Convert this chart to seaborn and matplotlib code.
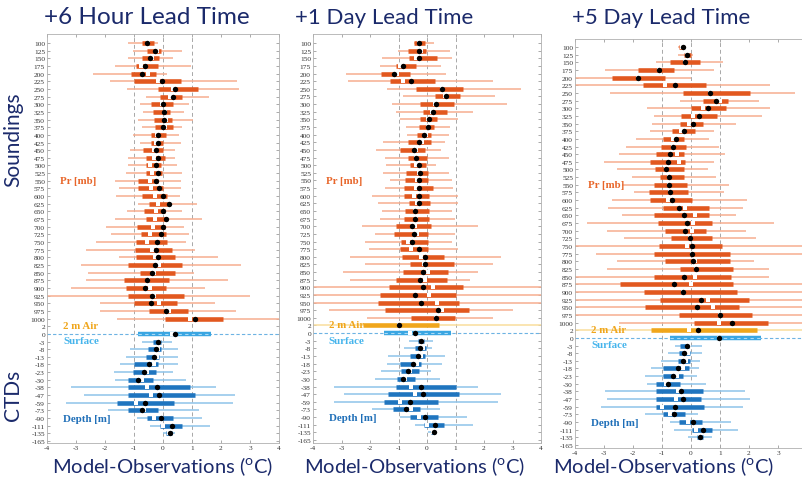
import numpy as np
import pandas as pd
import matplotlib
matplotlib.use("Agg")
import matplotlib.pyplot as plt
import seaborn as sns

# ---------------- data ----------------
levels = ["100", "125", "150", "175", "200", "225", "250", "275", "300", "325",
          "350", "375", "400", "425", "450", "475", "500", "525", "550", "575",
          "600", "625", "650", "675", "700", "725", "750", "775", "800", "825",
          "850", "875", "900", "925", "950", "975", "1000", "2", "0",
          "-3", "-8", "-13", "-18", "-23", "-30", "-38", "-47", "-59", "-73",
          "-90", "-111", "-135", "-165"]
nan = np.nan
titles = ["+6 Hour Lead Time", "+1 Day Lead Time", "+5 Day Lead Time"]
xticks = [-4, -3, -2, -1, 0, 1, 2, 3, 4]

# Panel 1 (+6 h)
wlo1 = [-1.21, -1.02, -1.21, -1.65, -2.41, -1.82, -1.23, -0.59, -0.81, -0.70, -0.87, -0.72, -1.02, -0.79, -1.13,
        -1.19, -1.19, -1.26, -1.67, -1.50, -1.61, -0.87, -1.25, -1.65, -1.95, -1.79, -2.30, -2.64, -1.50, -2.82,
        -2.57, -2.66, -3.17, -4.2, -2.18, -2.16, -1.57, nan, nan,
        -0.73, -1.13, -1.27, -1.47, -1.70, -1.65, -3.17, -2.73, -3.33, -1.91, -0.88, -0.45, 0.0, nan]
whi1 = [-0.16, 0.66, 0.35, 0.98, 0.15, 2.55, 2.62, 1.59, 0.90, 0.72, 1.02, 0.67, 0.56, 0.62, 0.43,
        0.43, 0.49, 0.64, 0.62, 0.62, 0.58, 1.18, 0.66, 1.33, 0.73, 0.89, 0.79, 1.12, 1.90, 2.70,
        1.06, 2.24, 1.45, 3.0, 1.78, 2.53, 4.2, nan, nan,
        0.30, 0.53, 0.53, 0.53, 0.35, 0.78, 1.84, 2.47, 2.41, 1.25, 1.36, 1.61, 0.40, nan]
blo1 = [-0.73, -0.56, -0.73, -0.93, -1.12, -0.99, -0.18, -0.09, -0.41, -0.33, -0.31, -0.26, -0.41, -0.42, -0.70,
        -0.59, -0.59, -0.59, -0.87, -0.85, -0.73, -0.48, -0.67, -0.58, -0.88, -0.77, -0.93, -0.95, -0.93, -1.19,
        -0.81, -1.36, -1.27, -1.22, -0.99, -0.48, 0.06, nan, -0.85,
        -0.35, -0.50, -0.58, -0.99, -1.05, -1.22, -1.19, -1.19, -1.57, -1.19, -0.56, -0.10, 0.10, nan]
bhi1 = [-0.31, -0.08, -0.13, -0.16, -0.24, 0.62, 1.20, 0.64, 0.35, 0.24, 0.32, 0.33, 0.10, 0.01, -0.01,
        0.07, -0.08, -0.05, -0.16, -0.01, 0.13, 0.24, 0.07, 0.15, 0.07, 0.10, 0.13, 0.32, 0.43, 0.66,
        0.43, 0.19, 0.09, 0.72, 0.48, 0.87, 2.06, nan, 1.67,
        -0.08, -0.07, -0.13, -0.16, -0.24, -0.33, 0.93, 1.12, 0.39, -0.16, 0.33, 0.64, 0.30, nan]
med1 = [-0.56, -0.26, -0.45, -0.62, -0.73, -0.03, 0.43, 0.35, 0.01, 0.02, 0.02, 0.01, -0.18, -0.17, -0.23,
        -0.18, -0.23, -0.16, -0.23, -0.13, -0.01, 0.22, 0.01, 0.10, 0.01, -0.08, -0.22, -0.23, -0.18, -0.26,
        -0.37, -0.54, -0.61, -0.39, -0.43, 0.10, 1.10, nan, 0.40,
        -0.18, -0.25, -0.31, -0.48, -0.65, -0.85, -0.22, -0.13, -0.62, -0.73, -0.07, 0.30, 0.24, nan]
mean1 = [-0.50, -0.22, -0.39, -0.75, -0.53, -0.16, 0.33, 0.24, -0.05, 0.07, 0.09, 0.07, -0.22, -0.24, -0.31,
         -0.31, -0.45, -0.39, -0.45, -0.42, -0.27, -0.18, -0.24, -0.27, -0.35, -0.45, -0.54, -0.39, -0.27, -0.15,
         -0.30, -0.50, -0.45, -0.30, -0.15, 0.22, 0.93, nan, 0.30,
         -0.13, -0.16, -0.19, -0.31, -0.56, -0.73, -0.54, -0.42, -0.93, -0.67, -0.31, -0.01, 0.20, nan]

# Panel 2 (+1 day)
wlo2 = [-0.47, -1.01, -1.59, -1.65, -2.85, -2.77, -1.42, -0.84, -1.24, -1.10, -0.93, -0.72, -0.70, -1.53, -1.80,
        -1.49, -1.45, -1.53, -1.30, -1.49, -1.92, -1.71, -1.57, -1.66, -2.29, -1.83, -2.19, -2.03, -2.71, -2.17,
        -2.94, -2.71, -4.2, -4.2, -4.2, -3.45, -2.09, -4.2, nan,
        -0.64, -0.81, -1.36, -1.40, -1.63, -1.83, -3.26, -2.91, -3.28, -1.94, -0.93, -0.43, 0.05, nan]
whi2 = [0.23, 0.79, 0.87, 0.50, 0.67, 2.3, 3.3, 2.4, 2.8, 1.60, 1.10, 0.79, 0.76, 0.62, 0.50,
        0.76, 0.31, 0.76, 0.87, 0.91, 1.10, 1.10, 0.87, 0.97, 1.78, 0.99, 0.87, 1.08, 2.6, 2.3,
        1.78, 1.51, 4.2, 4.2, 4.2, 3.0, 2.3, 4.2, nan,
        0.20, 0.17, 0.64, 0.52, 0.15, 0.47, 1.80, 2.6, 2.5, 0.44, 1.40, 1.63, 0.30, nan]
blo2 = [-0.44, -0.66, -0.62, -1.10, -1.60, -1.30, -0.37, 0.29, -0.26, -0.14, -0.23, -0.27, -0.35, -0.67, -0.93,
        -0.67, -0.60, -0.73, -0.78, -0.81, -0.81, -0.64, -0.78, -0.79, -1.10, -1.16, -0.91, -0.93, -0.87, -0.60,
        -0.85, -1.10, -1.34, -1.66, -1.71, -1.48, -0.55, -2.24, -1.51,
        -0.31, -0.43, -0.58, -0.95, -0.91, -1.05, -1.08, -1.37, -1.51, -1.19, -0.58, -0.12, 0.14, nan]
bhi2 = [-0.08, -0.02, 0.35, -0.37, -0.60, 0.27, 1.26, 1.16, 0.93, 0.70, 0.35, 0.26, 0.14, 0.14, -0.06,
        0.0, -0.02, 0.03, 0.02, 0.20, 0.06, 0.12, 0.06, 0.06, 0.15, 0.02, 0.02, 0.02, 0.60, 0.93,
        0.73, 0.70, 1.28, 1.02, 1.13, 1.49, 0.97, 0.41, 0.84,
        -0.12, -0.02, -0.06, -0.20, -0.29, -0.41, 1.01, 1.14, 0.37, -0.26, 0.37, 0.60, 0.29, nan]
med2 = [-0.29, -0.29, -0.27, -0.83, -1.15, -0.55, 0.53, 0.67, 0.33, 0.21, 0.06, 0.02, -0.10, -0.27, -0.45,
        -0.37, -0.29, -0.23, -0.29, -0.29, -0.29, -0.27, -0.43, -0.43, -0.52, -0.45, -0.52, -0.29, -0.06, -0.08,
        -0.14, -0.23, -0.15, -0.41, -0.20, 0.37, 0.30, -0.99, -0.41,
        -0.22, -0.26, -0.33, -0.49, -0.67, -0.85, -0.20, -0.15, -0.60, -0.73, -0.06, 0.29, 0.23, nan]
mean2 = [-0.27, -0.20, -0.38, -0.93, -1.05, -0.85, 0.53, 0.64, 0.27, 0.17, 0.03, 0.02, -0.03, -0.17, -0.38,
         -0.38, -0.38, -0.29, -0.35, -0.37, -0.47, -0.35, -0.43, -0.38, -0.41, -0.35, -0.66, -0.55, -0.20, -0.12,
         0.03, -0.06, 0.21, 0.08, 0.35, 0.52, 0.30, -0.99, -0.60,
         -0.17, -0.15, -0.20, -0.35, -0.60, -0.78, -0.55, -0.41, -0.93, -0.55, -0.29, 0.00, 0.20, nan]

# Panel 3 (+5 day)
wlo3 = [-0.46, -0.46, -1.22, -2.97, -4.2, -4.2, -2.80, -0.37, -1.52, -1.26, -1.34, -1.43, -1.91, -2.23, -2.49,
        -2.99, -2.54, -2.02, -2.37, -1.97, -2.71, -2.86, -2.38, -3.57, -2.91, -2.32, -4.2, -3.26, -2.54, -2.88,
        -4.2, -4.2, -4.2, -4.2, -4.2, -4.2, -2.48, -4.2, nan,
        -0.54, -0.80, -1.03, -1.37, -1.60, -1.51, -2.95, -2.88, -3.12, -1.58, -0.74, -0.57, -0.11, nan]
whi3 = [-0.17, 0.06, 1.12, 0.78, 0.0, 2.74, 3.6, 2.34, 2.74, 2.46, 1.54, 0.80, 0.63, 0.95, 1.18,
        0.80, 0.57, 0.86, 1.31, 1.14, 1.94, 1.79, 1.54, 2.87, 1.89, 2.25, 4.2, 4.2, 2.17, 2.69,
        2.69, 4.2, 4.2, 4.2, 4.2, 4.2, 4.2, 4.2, nan,
        0.38, 0.38, 0.31, 0.29, 0.19, 0.51, 1.85, 2.02, 1.79, 0.25, 1.37, 1.62, 0.74, nan]
blo3 = [-0.40, -0.23, -0.71, -1.82, -2.74, -1.66, -0.27, 0.43, 0.0, -0.33, -0.39, -0.67, -0.97, -1.05, -1.19,
        -1.41, -1.25, -1.07, -1.26, -1.44, -1.42, -0.98, -1.28, -1.15, -0.91, -0.70, -1.11, -1.26, -0.88, -0.39,
        -1.26, -2.45, -1.61, -1.06, -1.60, -0.43, 0.09, -1.39, -0.72,
        -0.38, -0.40, -0.46, -0.97, -0.95, -1.20, -1.22, -1.20, -1.20, -0.97, -0.42, 0.02, 0.21, nan]
bhi3 = [-0.23, 0.0, 0.31, -0.57, -0.89, 0.53, 2.02, 1.29, 1.22, 0.88, 0.40, 0.13, -0.23, -0.17, -0.25,
        -0.21, -0.25, -0.25, -0.14, -0.11, 0.03, 0.61, 0.63, 0.72, 0.51, 0.71, 1.06, 1.34, 1.35, 1.46,
        1.39, 1.46, 1.58, 2.01, 1.64, 2.09, 2.66, 2.29, 2.43,
        -0.06, -0.03, -0.02, -0.08, -0.26, -0.37, 0.40, 0.34, 0.46, -0.19, 0.38, 0.71, 0.40, nan]
med3 = [-0.29, -0.14, -0.19, -1.10, -1.83, -0.56, 0.66, 0.86, 0.58, 0.26, 0.07, -0.23, -0.51, -0.61, -0.74,
        -0.80, -0.86, -0.77, -0.77, -0.71, -0.67, -0.40, -0.25, -0.15, -0.19, -0.02, 0.02, 0.03, 0.07, 0.17,
        -0.23, -0.57, -0.26, 0.33, 0.21, 0.99, 1.41, 0.24, 0.97,
        -0.15, -0.23, -0.29, -0.46, -0.63, -0.78, -0.34, -0.26, -0.54, -0.59, 0.06, 0.42, 0.31, nan]
mean3 = [-0.30, -0.15, -0.20, -1.10, -1.83, -0.88, 0.66, 0.99, 0.42, 0.06, -0.08, -0.34, -0.63, -0.63, -0.49,
         -0.40, -0.86, -0.77, -0.77, -0.71, -0.80, -0.19, 0.15, 0.06, 0.02, -0.02, -0.14, 0.03, 0.15, 0.17,
         0.15, 0.00, -0.26, 0.57, 0.77, 0.99, 0.95, -0.08, 0.97,
         -0.08, -0.11, -0.17, -0.29, -0.49, -0.86, -0.46, -0.51, -0.99, -0.74, -0.11, 0.17, 0.31, nan]

panels = [
    dict(wlo=wlo1, whi=whi1, blo=blo1, bhi=bhi1, med=med1, mean=mean1),
    dict(wlo=wlo2, whi=whi2, blo=blo2, bhi=bhi2, med=med2, mean=mean2),
    dict(wlo=wlo3, whi=whi3, blo=blo3, bhi=bhi3, med=med3, mean=mean3),
]

# ---------------- style ----------------
sns.set_theme(style="white")
plt.rcParams["font.family"] = ["Lato", "DejaVu Sans"]
plt.rcParams["mathtext.fontset"] = "custom"
plt.rcParams["mathtext.rm"] = "Lato"

NAVY = "#1B2A6B"
SERIF = ["Liberation Serif", "DejaVu Serif"]
W, H = 803, 485

def rect(l, r, t, b):
    return [l / W, 1 - b / H, (r - l) / W, (b - t) / H]

geo = [
    dict(l=47, r=279, t=35, b=444, ylim=(52.26, -1.18), tx=147, xl=163, ts=17.5),
    dict(l=313, r=541, t=35, b=444, ylim=(52.39, -1.18), tx=384, xl=415, ts=16),
    dict(l=575, r=807, t=40, b=449, ylim=(52.39, -1.05), tx=661, xl=664, ts=16),
]

n_snd = 37
idx_air = 37
idx_sfc = 38

def group_of(i):
    if i < n_snd:
        return "snd"
    if i == idx_air:
        return "air"
    if i == idx_sfc:
        return "sfc"
    return "ctd"

wcol = {"snd": "#F6AE90", "air": "#F9DE9C", "sfc": "#8EC4EA", "ctd": "#8EC4EA"}
bcol = {"snd": "#E2581F", "air": "#F0A61C", "sfc": "#3AA6E2", "ctd": "#1F75BF"}

fig = plt.figure(figsize=(W / 100, H / 100), dpi=100)

y = np.arange(len(levels))
for p, (d, g) in enumerate(zip(panels, geo)):
    ax = fig.add_axes(rect(g["l"], g["r"], g["t"], g["b"]))
    df = pd.DataFrame(dict(y=y, **d))
    df["grp"] = [group_of(i) for i in y]

    # reference lines
    for xv in (-1, 0, 1):
        ax.axvline(xv, color="#A8A8A8", lw=0.7, ls=(0, (4, 3)), zorder=1)
    ax.axhline(idx_sfc, color="#6DB3E3", lw=0.8, ls=(0, (3, 2)), zorder=1)

    for grp, sub in df.groupby("grp"):
        ax.hlines(sub["y"], sub["wlo"], sub["whi"], color=wcol[grp], lw=1.1, zorder=2)
        if grp == "sfc":
            ax.hlines(sub["y"], sub["blo"], sub["bhi"], color=bcol[grp], lw=3.2, zorder=3)
            ax.hlines(sub["y"], sub["blo"], sub["bhi"], color="#A9DAF6", lw=0.8,
                      ls=(0, (3, 3)), zorder=3.5)
        else:
            ax.hlines(sub["y"], sub["blo"], sub["bhi"], color=bcol[grp], lw=3.3, zorder=3)

    sns.scatterplot(data=df, x="mean", y="y", color="white", s=5, linewidth=0,
                    marker="s", ax=ax, zorder=4, legend=False)
    sns.scatterplot(data=df, x="med", y="y", color="black", s=15, linewidth=0,
                    ax=ax, zorder=5, legend=False)

    ax.set_xlim(-4, 4)
    ax.set_ylim(*g["ylim"])
    ax.set_yticks(y)
    ax.set_yticklabels(levels, fontfamily=SERIF, fontsize=5.3, color="#333333")
    ax.set_xticks(xticks)
    xlabs = [str(v) for v in xticks]
    if p == 2:
        xlabs[-1] = ""
    ax.set_xticklabels(xlabs, fontfamily=SERIF, fontsize=5.3, color="#333333")
    ax.tick_params(axis="both", direction="in", length=2, width=0.5, color="#888888",
                   pad=1.5, top=True, right=True, bottom=True, left=True)
    ax.set_xlabel("")
    ax.set_ylabel("")
    for s in ax.spines.values():
        s.set_color("#B0B0B0")
        s.set_linewidth(0.6)

    # in-panel labels
    ax.text(-3.55, 18, "Pr [mb]", color="#E8662A", fontsize=7.8, fontfamily=SERIF,
            fontweight="bold", va="center", ha="left")
    ax.text(-3.45, 36.9, "2 m Air", color="#F0A61C", fontsize=7.8, fontfamily=SERIF,
            fontweight="bold", va="center", ha="left")
    ax.text(-3.45, 38.9, "Surface", color="#45B4EC", fontsize=7.8, fontfamily=SERIF,
            fontweight="bold", va="center", ha="left")
    ax.text(-3.45, 49.1, "Depth [m]", color="#1F6FB8", fontsize=7.8, fontfamily=SERIF,
            fontweight="bold", va="center", ha="left")

    # titles and axis titles
    fig.text(g["tx"] / W, 1 - 18 / H, titles[p], color=NAVY, fontsize=g["ts"],
             ha="center", va="center")
    fig.text(g["xl"] / W, 1 - 467 / H, r"Model-Observations (${}^{\mathrm{o}}$C)",
             color=NAVY, fontsize=14.5, ha="center", va="center")

fig.text(13 / W, 1 - 140 / H, "Soundings", color=NAVY, fontsize=15, rotation=90,
         ha="center", va="center")
fig.text(13 / W, 1 - 395 / H, "CTDs", color=NAVY, fontsize=15, rotation=90,
         ha="center", va="center")

fig.savefig("out.png", dpi=100)
